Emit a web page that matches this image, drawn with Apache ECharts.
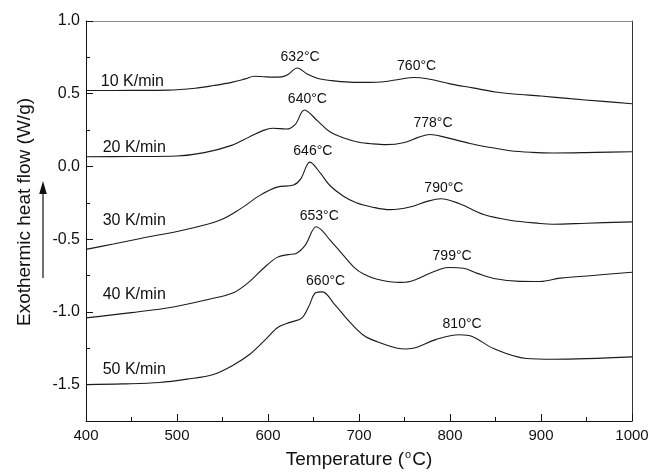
<!DOCTYPE html>
<html>
<head>
<meta charset="utf-8">
<script src="https://cdn.jsdelivr.net/npm/echarts@6/dist/echarts.min.js"></script>
<style>
  html, body { margin: 0; padding: 0; background: #fff; }
  #chart { width: 653px; height: 474px; }
</style>
</head>
<body>
<div id="chart"></div>
<script>
// DSC traces at five heating rates: temperature (°C) and heat flow (W/g)
const rates = ['10 K/min', '20 K/min', '30 K/min', '40 K/min', '50 K/min'];

const temp10 = [400,450,490,520,540,560,575,585,595,605,615,622,632,643,655,670,690,710,727,745,760,775,800,825,850,870,900,932,965,1000];
const flow10 = [0.522,0.523,0.525,0.538,0.556,0.578,0.602,0.620,0.617,0.614,0.616,0.632,0.677,0.636,0.605,0.590,0.580,0.578,0.582,0.600,0.612,0.603,0.568,0.540,0.512,0.498,0.484,0.466,0.449,0.431];

const temp20 = [400,450,500,530,560,580,595,605,620,630,640,655,668,686,700,715,730,750,765,778,795,822,845,866,890,913,960,1000];
const flow20 = [0.067,0.068,0.072,0.095,0.145,0.205,0.248,0.263,0.257,0.290,0.388,0.310,0.238,0.190,0.166,0.155,0.150,0.165,0.200,0.220,0.200,0.158,0.130,0.108,0.097,0.093,0.097,0.101];

const temp30 = [400,430,460,510,547,570,591,610,628,636,646,658,668,683,697,715,734,756,775,790,810,837,866,899,913,950,1000];
const flow30 = [-0.570,-0.533,-0.495,-0.433,-0.370,-0.290,-0.199,-0.142,-0.128,-0.085,0.030,-0.050,-0.131,-0.205,-0.250,-0.280,-0.297,-0.279,-0.240,-0.222,-0.255,-0.331,-0.370,-0.392,-0.397,-0.390,-0.381];

const temp40 = [400,450,496,533,562,580,595,610,622,631,641,653,660,668,680,694,705,720,745,756,778,790,799,815,830,848,877,899,921,960,1000];
const flow40 = [-1.041,-1.005,-0.966,-0.916,-0.868,-0.790,-0.700,-0.625,-0.606,-0.598,-0.541,-0.415,-0.445,-0.505,-0.590,-0.690,-0.740,-0.775,-0.797,-0.791,-0.734,-0.705,-0.695,-0.700,-0.735,-0.770,-0.790,-0.791,-0.768,-0.748,-0.727];

const temp50 = [400,440,481,511,540,562,580,598,611,624,637,645,652,660,672,690,705,720,741,752,763,785,810,825,848,884,913,1000];
const flow50 = [-1.500,-1.495,-1.485,-1.462,-1.430,-1.365,-1.291,-1.185,-1.105,-1.072,-1.043,-0.960,-0.870,-0.862,-0.939,-1.070,-1.160,-1.205,-1.248,-1.255,-1.245,-1.189,-1.157,-1.170,-1.252,-1.320,-1.325,-1.309];

// Peak temperatures (°C): main exotherm and second, smaller exotherm
const peakMain = [632, 640, 646, 653, 660];
const peakSecond = [760, 778, 790, 799, 810];

// Axis ticks
const xTicks = [400, 500, 600, 700, 800, 900, 1000];
const yMajor = [-1.5, -1.0, -0.5, 0.0, 0.5, 1.0];
const yMinor = [-1.25, -0.75, -0.25, 0.25, 0.75];

const temps = [temp10, temp20, temp30, temp40, temp50];
const flows = [flow10, flow20, flow30, flow40, flow50];

// Where each heating-rate caption sits, in data coordinates
const captionAt = [[451, 0.584], [453, 0.133], [453, -0.370], [453, -0.882], [453, -1.394]];

const FONT = '"Liberation Sans", Arial, Helvetica, sans-serif';
const INK = '#111';

function flowAt(i, t) {
  const k = temps[i].indexOf(t);
  return flows[i][k];
}

const series = rates.map((name, i) => {
  const data = temps[i].map((t, k) => [t, flows[i][k]]);
  const peaks = [peakMain[i], peakSecond[i]].map(t => ({
    coord: [t, flowAt(i, t)],
    label: {
      show: true, position: 'top', distance: 4, offset: [3, 0],
      formatter: t + '°C', fontSize: 14, color: INK, fontFamily: FONT
    }
  }));
  const caption = {
    coord: captionAt[i],
    label: {
      show: true, position: 'inside', formatter: name,
      fontSize: 16, color: INK, fontFamily: FONT
    }
  };
  return {
    name: name,
    type: 'line',
    xAxisIndex: 0,
    yAxisIndex: 0,
    data: data,
    smooth: 0.35,
    showSymbol: false,
    symbol: 'none',
    lineStyle: { color: '#1a1a1a', width: 1.1 },
    silent: true,
    animation: false,
    markPoint: {
      symbol: 'circle',
      symbolSize: 0,
      silent: true,
      animation: false,
      data: peaks.concat([caption])
    }
  };
});

const chart = echarts.init(document.getElementById('chart'), null, { renderer: 'canvas' });

chart.setOption({
  animation: false,
  backgroundColor: '#fff',
  textStyle: { fontFamily: FONT },
  grid: { left: 86, right: 21, top: 21, bottom: 50 },
  xAxis: [
    {
      type: 'value',
      position: 'bottom',
      min: 400, max: 1000, interval: 100,
      name: 'Temperature ({sup|o}C)',
      nameLocation: 'middle',
      nameGap: 28,
      nameTextStyle: {
        fontSize: 19, color: INK, fontFamily: FONT,
        rich: { sup: { fontSize: 11, color: INK, fontFamily: FONT, padding: [0, 1, 10, 1] } }
      },
      axisLine: { show: true, onZero: false, lineStyle: { color: INK, width: 1 } },
      axisTick: { show: true, inside: true, length: 7, lineStyle: { color: INK } },
      minorTick: { show: true, splitNumber: 2, length: 4, lineStyle: { color: INK } },
      axisLabel: {
        show: true, fontSize: 15, color: INK, fontFamily: FONT, margin: 7,
        customValues: xTicks,
        formatter: v => String(v)
      },
      splitLine: { show: false }
    },
    {
      type: 'value',
      position: 'top',
      min: 400, max: 1000,
      axisLine: { show: true, onZero: false, lineStyle: { color: '#8a8a8a', width: 1 } },
      axisTick: { show: false },
      axisLabel: { show: false },
      splitLine: { show: false }
    }
  ],
  yAxis: [
    {
      type: 'value',
      position: 'left',
      min: -1.75, max: 1.0,
      name: 'Exothermic heat flow (W/g)',
      nameLocation: 'middle',
      nameGap: 52,
      nameTextStyle: { fontSize: 19, color: INK, fontFamily: FONT, padding: [0, 0, 0, 18] },
      axisLine: { show: true, onZero: false, lineStyle: { color: INK, width: 1 } },
      axisTick: { show: true, inside: true, length: 7, lineStyle: { color: INK }, customValues: yMajor },
      axisLabel: {
        show: true, fontSize: 16, color: INK, fontFamily: FONT, margin: 6,
        customValues: yMajor,
        formatter: v => v.toFixed(1)
      },
      splitLine: { show: false }
    },
    {
      type: 'value',
      position: 'left',
      min: -1.75, max: 1.0,
      axisLine: { show: false, onZero: false },
      axisTick: { show: true, inside: true, length: 4, lineStyle: { color: INK }, customValues: yMinor },
      axisLabel: { show: false },
      splitLine: { show: false }
    },
    {
      type: 'value',
      position: 'right',
      min: -1.75, max: 1.0,
      axisLine: { show: true, onZero: false, lineStyle: { color: '#333', width: 1 } },
      axisTick: { show: false },
      axisLabel: { show: false },
      splitLine: { show: false }
    }
  ],
  // Upward arrow marking the exothermic direction
  graphic: [
    {
      type: 'line',
      shape: { x1: 43, y1: 278, x2: 43, y2: 190 },
      style: { stroke: INK, lineWidth: 1.2 },
      silent: true
    },
    {
      type: 'polygon',
      shape: { points: [[43, 181], [39.2, 194], [46.8, 194]] },
      style: { fill: INK },
      silent: true
    }
  ],
  series: series
});
</script>
</body>
</html>
